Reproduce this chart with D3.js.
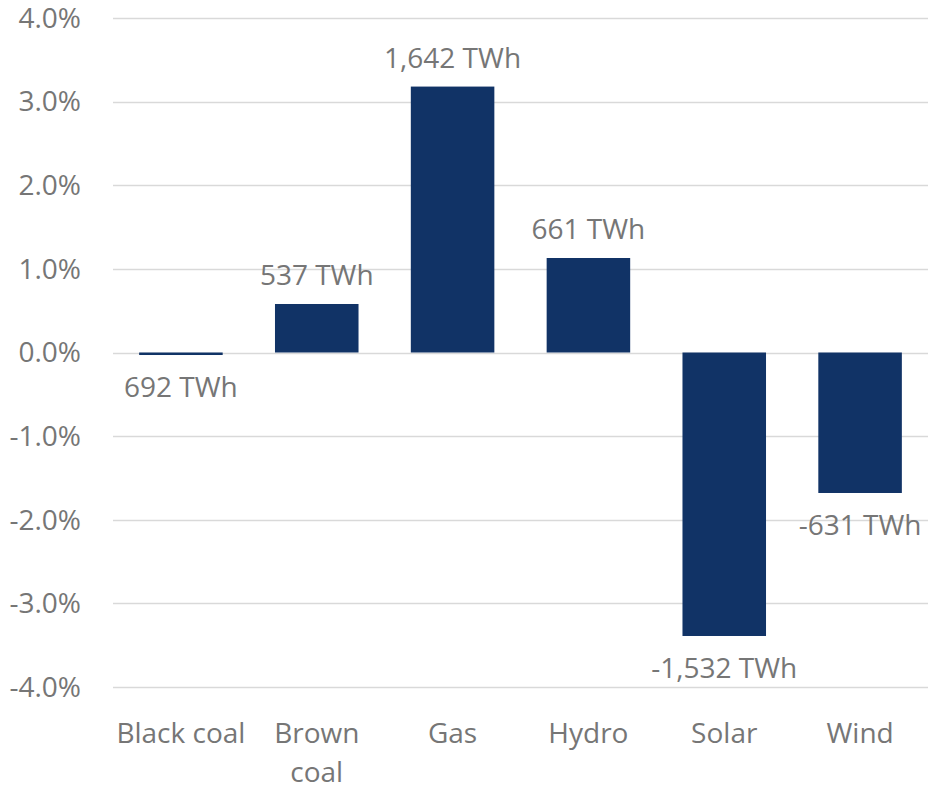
<!DOCTYPE html>
<html><head><meta charset="utf-8">
<script src="https://cdn.jsdelivr.net/npm/d3@7"></script>
<style>body{margin:0;background:#fff}svg{display:block}text{font-family:"Open Sans","Noto Sans",sans-serif;fill:#767676}</style>
</head><body>
<script>
const categories = ["Black coal", "Brown coal", "Gas", "Hydro", "Solar", "Wind"];
const values = [-0.0003, 0.0058, 0.0318, 0.0113, -0.0339, -0.0168];
const labels = ["692 TWh", "537 TWh", "1,642 TWh", "661 TWh", "-1,532 TWh", "-631 TWh"];
const yTicks = [-0.04, -0.03, -0.02, -0.01, 0, 0.01, 0.02, 0.03, 0.04];

const W = 928, H = 787;
const m = {left: 113, right: 0, top: 18, bottom: 100};
const FS = "28px";
const svg = d3.select("body").append("svg").attr("width", W).attr("height", H);
const x = d3.scaleBand().domain(categories).range([m.left, W - m.right]).paddingInner(0.385).paddingOuter(0.1925);
const y = d3.scaleLinear().domain([-0.04, 0.04]).range([687, 18]);

svg.append("g").selectAll("line").data(yTicks).join("line")
  .attr("x1", m.left).attr("x2", W).attr("y1", d => Math.round(y(d)) + 0.5).attr("y2", d => Math.round(y(d)) + 0.5)
  .attr("stroke", "#d9d9d9").attr("stroke-width", 1.3);

svg.append("g").selectAll("text").data(yTicks).join("text")
  .attr("x", 81).attr("y", d => y(d)).attr("dy", "0.35em").attr("text-anchor", "end")
  .style("font-size", FS).text(d => d3.format(".1%")(d).replace("−", "-"));

svg.append("g").selectAll("rect").data(values).join("rect")
  .attr("x", (d, i) => x(categories[i])).attr("width", x.bandwidth())
  .attr("y", d => Math.min(y(d), y(0))).attr("height", d => Math.max(1.5, Math.abs(y(d) - y(0))))
  .attr("fill", "#113366");

svg.append("g").selectAll("text").data(values).join("text")
  .attr("x", (d, i) => x(categories[i]) + x.bandwidth() / 2)
  .attr("y", d => d >= 0 ? y(d) - 19 : y(d) + 42)
  .attr("text-anchor", "middle").style("font-size", FS)
  .text((d, i) => labels[i]);

const xl = svg.append("g").selectAll("text").data(categories).join("text")
  .attr("x", d => x(d) + x.bandwidth() / 2).attr("y", 743)
  .attr("text-anchor", "middle").style("font-size", FS);
xl.each(function(d) {
  const t = d3.select(this);
  const lines = d === "Brown coal" ? ["Brown", "coal"] : [d];
  lines.forEach((l, k) => t.append("tspan").attr("x", t.attr("x")).attr("dy", k ? 39 : 0).text(l));
});
</script>
</body></html>
